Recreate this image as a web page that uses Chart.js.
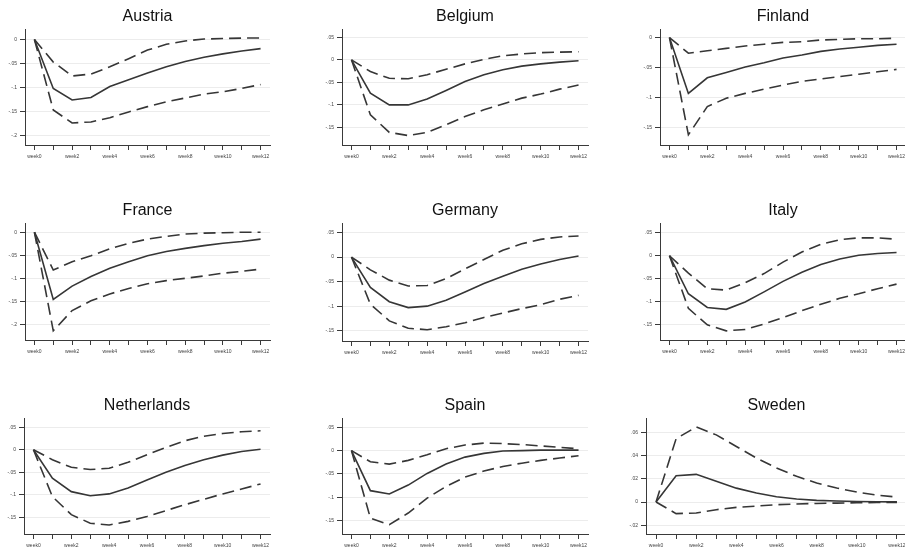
<!DOCTYPE html>
<html>
<head>
<meta charset="utf-8">
<script src="https://cdn.jsdelivr.net/npm/chart.js@4"></script>
<style>
    html, body { margin: 0; padding: 0; background: #fff; width: 905px; height: 554px; overflow: hidden; }
    .panel { position: absolute; }
</style>
</head>
<body>
<div id="grid"></div>
<script>
//-----------------------------------------------------------------------------
// data: impulse response + upper / lower band per country
//-----------------------------------------------------------------------------
const xTickLabels = ["week0", "", "week2", "", "week4", "", "week6", "", "week8", "", "week10", "", "week12"];

const austriaIrf   = [0, -0.102, -0.126, -0.121, -0.098, -0.084, -0.070, -0.057, -0.046, -0.037, -0.030, -0.024, -0.019];
const austriaUpper = [0, -0.047, -0.076, -0.072, -0.057, -0.040, -0.022, -0.010, -0.003, 0.001, 0.002, 0.003, 0.003];
const austriaLower = [0, -0.147, -0.174, -0.172, -0.163, -0.151, -0.140, -0.130, -0.122, -0.114, -0.109, -0.102, -0.094];

const belgiumIrf   = [0, -0.074, -0.100, -0.100, -0.087, -0.068, -0.048, -0.033, -0.022, -0.014, -0.009, -0.005, -0.002];
const belgiumUpper = [0, -0.026, -0.041, -0.042, -0.033, -0.021, -0.009, 0.001, 0.009, 0.013, 0.016, 0.017, 0.018];
const belgiumLower = [0, -0.122, -0.161, -0.168, -0.161, -0.144, -0.126, -0.111, -0.098, -0.085, -0.076, -0.065, -0.056];

const finlandIrf   = [0, -0.093, -0.067, -0.058, -0.049, -0.042, -0.034, -0.029, -0.023, -0.019, -0.016, -0.013, -0.011];
const finlandUpper = [0, -0.026, -0.022, -0.018, -0.014, -0.011, -0.008, -0.007, -0.004, -0.003, -0.002, -0.002, -0.001];
const finlandLower = [0, -0.162, -0.115, -0.101, -0.093, -0.086, -0.079, -0.073, -0.069, -0.065, -0.061, -0.057, -0.053];

const franceIrf   = [0, -0.146, -0.117, -0.096, -0.078, -0.064, -0.051, -0.042, -0.035, -0.029, -0.024, -0.020, -0.015];
const franceUpper = [0, -0.082, -0.064, -0.051, -0.036, -0.024, -0.015, -0.009, -0.004, -0.002, -0.001, 0, 0];
const franceLower = [0, -0.214, -0.170, -0.149, -0.134, -0.122, -0.112, -0.105, -0.100, -0.095, -0.089, -0.085, -0.080];

const germanyIrf   = [0, -0.062, -0.091, -0.103, -0.100, -0.088, -0.071, -0.054, -0.039, -0.025, -0.014, -0.005, 0.002];
const germanyUpper = [0, -0.026, -0.047, -0.059, -0.058, -0.044, -0.024, -0.005, 0.014, 0.027, 0.036, 0.041, 0.043];
const germanyLower = [0, -0.096, -0.130, -0.145, -0.148, -0.142, -0.134, -0.123, -0.114, -0.105, -0.097, -0.086, -0.078];

const italyIrf   = [0, -0.083, -0.113, -0.117, -0.101, -0.079, -0.056, -0.036, -0.019, -0.007, 0.001, 0.005, 0.007];
const italyUpper = [0, -0.038, -0.072, -0.075, -0.059, -0.039, -0.014, 0.008, 0.025, 0.035, 0.039, 0.039, 0.036];
const italyLower = [0, -0.115, -0.151, -0.164, -0.161, -0.149, -0.135, -0.120, -0.106, -0.093, -0.083, -0.072, -0.062];

const netherlandsIrf   = [0, -0.063, -0.093, -0.102, -0.098, -0.085, -0.067, -0.050, -0.035, -0.022, -0.012, -0.004, 0.001];
const netherlandsUpper = [0, -0.022, -0.039, -0.044, -0.041, -0.028, -0.011, 0.005, 0.020, 0.030, 0.036, 0.040, 0.042];
const netherlandsLower = [0, -0.104, -0.144, -0.163, -0.167, -0.159, -0.148, -0.135, -0.122, -0.110, -0.098, -0.087, -0.076];

const spainIrf   = [0, -0.086, -0.093, -0.074, -0.049, -0.029, -0.014, -0.006, -0.001, 0, 0.001, 0.001, 0.001];
const spainUpper = [0, -0.024, -0.029, -0.021, -0.009, 0.004, 0.012, 0.016, 0.015, 0.013, 0.010, 0.007, 0.004];
const spainLower = [0, -0.145, -0.159, -0.134, -0.102, -0.077, -0.057, -0.044, -0.034, -0.027, -0.021, -0.016, -0.011];

const swedenIrf   = [0, 0.0227, 0.0239, 0.018, 0.012, 0.0078, 0.0046, 0.0026, 0.0014, 0.0009, 0.0005, 0.0002, 0.0001];
const swedenUpper = [0, 0.0547, 0.0648, 0.058, 0.048, 0.038, 0.0294, 0.0222, 0.0164, 0.0121, 0.0086, 0.006, 0.0043];
const swedenLower = [0, -0.010, -0.0095, -0.0066, -0.0046, -0.0035, -0.0023, -0.0017, -0.0012, -0.0009, -0.0006, -0.0004, -0.0003];

// y tick values per panel
const ticksDown20 = [0, -0.05, -0.1, -0.15, -0.2];
const ticksDown15 = [0, -0.05, -0.1, -0.15];
const ticksBand   = [0.05, 0, -0.05, -0.1, -0.15];
const ticksSweden = [0.06, 0.04, 0.02, 0, -0.02];

//-----------------------------------------------------------------------------
// panel placement: plot box [left, right, top, bottom] in page pixels, y range
//-----------------------------------------------------------------------------
const panels = [
    { title: "Austria",     irf: austriaIrf,     upper: austriaUpper,     lower: austriaLower,     yTicks: ticksDown20, yMin: -0.220, yMax: 0.0215, box: [25, 270, 29, 145] },
    { title: "Belgium",     irf: belgiumIrf,     upper: belgiumUpper,     lower: belgiumLower,     yTicks: ticksBand,   yMin: -0.189, yMax: 0.068,  box: [342, 588, 29, 145] },
    { title: "Finland",     irf: finlandIrf,     upper: finlandUpper,     lower: finlandLower,     yTicks: ticksDown15, yMin: -0.179, yMax: 0.014,  box: [660, 906, 29, 145] },
    { title: "France",      irf: franceIrf,      upper: franceUpper,      lower: franceLower,      yTicks: ticksDown20, yMin: -0.234, yMax: 0.0196, box: [25, 270, 223, 340] },
    { title: "Germany",     irf: germanyIrf,     upper: germanyUpper,     lower: germanyLower,     yTicks: ticksBand,   yMin: -0.171, yMax: 0.069,  box: [342, 588, 223, 341] },
    { title: "Italy",       irf: italyIrf,       upper: italyUpper,       lower: italyLower,       yTicks: ticksBand,   yMin: -0.184, yMax: 0.071,  box: [660, 906, 223, 340] },
    { title: "Netherlands", irf: netherlandsIrf, upper: netherlandsUpper, lower: netherlandsLower, yTicks: ticksBand,   yMin: -0.187, yMax: 0.070,  box: [24, 270, 418, 534] },
    { title: "Spain",       irf: spainIrf,       upper: spainUpper,       lower: spainLower,       yTicks: ticksBand,   yMin: -0.179, yMax: 0.0695, box: [342, 588, 418, 534] },
    { title: "Sweden",      irf: swedenIrf,      upper: swedenUpper,      lower: swedenLower,      yTicks: ticksSweden, yMin: -0.0276, yMax: 0.0724, box: [646, 907, 418, 534] },
];

const Y_AXIS_W = 30;
const X_AXIS_H = 20;
const PAD_R = 10;
const TITLE_PAD_TOP = 6;
const TITLE_PAD_BOTTOM = 3;
const TITLE_SIZE = 16;
const TITLE_H = TITLE_PAD_TOP + TITLE_SIZE * 1.2 + TITLE_PAD_BOTTOM;

const LINE_COLOR = "#363636";
const AXIS_COLOR = "#3a3a3a";

// stata style labels: -.05, .05, 0
function stataLabel(v) {
    if (Math.abs(v) < 1e-9) return "0";
    return String(+v.toFixed(3)).replace("0.", ".");
}

//-----------------------------------------------------------------------------
// build one canvas per panel, sized so the plot box lands where it should
//-----------------------------------------------------------------------------
function createPanel(p, i) {
    const [left, right, top, bottom] = p.box;
    const canvas = document.createElement("canvas");
    canvas.classList.add("panel");
    canvas.id = `panel${i}`;
    const w = Math.round(right - left + Y_AXIS_W + PAD_R);
    const h = Math.round(bottom - top + TITLE_H + X_AXIS_H);
    canvas.width = w;
    canvas.height = h;
    canvas.style.width = `${w}px`;
    canvas.style.height = `${h}px`;
    canvas.style.left = `${Math.round(left - Y_AXIS_W)}px`;
    canvas.style.top = `${Math.round(top - TITLE_H)}px`;
    document.getElementById("grid").appendChild(canvas);
    return canvas;
}

function drawPanel(p, canvas) {
    const lineSet = (data, dashed) => ({
        data: data,
        borderColor: LINE_COLOR,
        borderWidth: 1.6,
        borderDash: dashed ? [12, 6] : [],
        pointRadius: 0,
        tension: 0,
        fill: false,
    });

    new Chart(canvas.getContext("2d"), {
        type: "line",
        data: {
            labels: xTickLabels,
            datasets: [
                lineSet(p.irf, false),
                lineSet(p.upper, true),
                lineSet(p.lower, true),
            ]
        },
        options: {
            responsive: false,
            animation: false,
            devicePixelRatio: 1,
            layout: { padding: { left: 0, right: PAD_R, top: 0, bottom: 0 } },
            plugins: {
                legend: { display: false },
                tooltip: { enabled: false },
                title: {
                    display: true,
                    text: p.title,
                    fullSize: false,
                    color: "#111",
                    font: { family: "'Liberation Sans', Arial, Helvetica, sans-serif", size: TITLE_SIZE, weight: "normal", lineHeight: 1.2 },
                    padding: { top: TITLE_PAD_TOP, bottom: TITLE_PAD_BOTTOM },
                }
            },
            scales: {
                x: {
                    type: "category",
                    offset: true,
                    border: { display: true, color: AXIS_COLOR, width: 1 },
                    grid: { display: true, drawOnChartArea: false, drawTicks: true, tickLength: 5, tickColor: AXIS_COLOR, offset: false },
                    ticks: {
                        autoSkip: false,
                        maxRotation: 0,
                        padding: 4,
                        color: "#444",
                        font: { family: "'Liberation Sans', Arial, sans-serif", size: 5 },
                    },
                    afterFit: scale => { scale.height = X_AXIS_H; }
                },
                y: {
                    min: p.yMin,
                    max: p.yMax,
                    border: { display: true, color: AXIS_COLOR, width: 1 },
                    grid: { color: "#ececec", lineWidth: 1, drawTicks: true, tickLength: 5, tickColor: AXIS_COLOR },
                    ticks: {
                        padding: 3,
                        color: "#444",
                        font: { family: "'Liberation Sans', Arial, sans-serif", size: 5 },
                        callback: value => stataLabel(value),
                    },
                    afterBuildTicks: scale => { scale.ticks = p.yTicks.map(v => ({ value: v })); },
                    afterFit: scale => { scale.width = Y_AXIS_W; }
                }
            }
        }
    });
}

panels.forEach((p, i) => drawPanel(p, createPanel(p, i)));
</script>
</body>
</html>
